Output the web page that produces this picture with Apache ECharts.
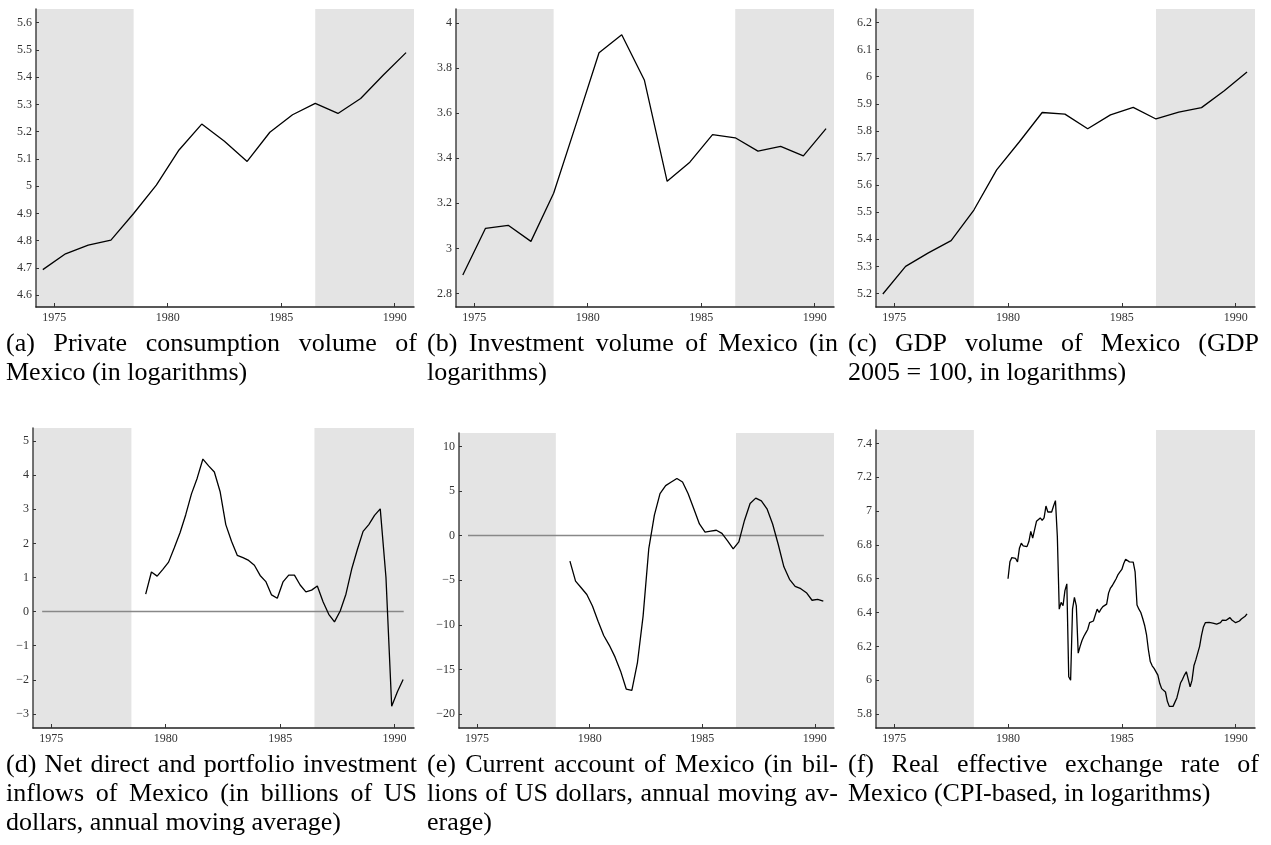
<!DOCTYPE html>
<html>
<head>
<meta charset="utf-8">
<script src="https://cdn.jsdelivr.net/npm/echarts@6/dist/echarts.min.js"></script>
<style>
html,body{margin:0;padding:0;background:#fff;}
#chart{width:1271px;height:845px;}
</style>
</head>
<body>
<div id="chart"></div>
<script>
// ---------- DATA ----------
const xTicks = [1975, 1980, 1985, 1990];
const shadedBands = [[1974.2, 1978.5], [1986.5, 1990.85]];
const zeroLineX = [1974.6, 1990.4];

const annualYears = [1974.5, 1975.5, 1976.5, 1977.5, 1978.5, 1979.5, 1980.5, 1981.5, 1982.5,
  1983.5, 1984.5, 1985.5, 1986.5, 1987.5, 1988.5, 1989.5, 1990.5];

const consumption = [4.694, 4.752, 4.784, 4.802, 4.900, 5.004, 5.133, 5.228, 5.165,
  5.091, 5.198, 5.262, 5.304, 5.267, 5.322, 5.408, 5.490];
const investment = [2.882, 3.089, 3.102, 3.031, 3.244, 3.554, 3.867, 3.947, 3.745,
  3.297, 3.382, 3.504, 3.490, 3.431, 3.452, 3.410, 3.531];
const gdp = [5.198, 5.300, 5.350, 5.395, 5.508, 5.656, 5.760, 5.868, 5.862,
  5.808, 5.859, 5.887, 5.844, 5.869, 5.886, 5.948, 6.017];

// quarterly, first quarter mid 1979.125
const quarterStart = 1979.125, quarterStep = 0.25;
const netInflows = [0.51, 1.16, 1.04, 1.24, 1.45, 1.87, 2.31, 2.84, 3.45, 3.91, 4.47, 4.27,
  4.09, 3.52, 2.55, 2.06, 1.65, 1.58, 1.50, 1.36, 1.06, 0.88, 0.49, 0.39,
  0.87, 1.07, 1.07, 0.78, 0.58, 0.63, 0.75, 0.29, -0.08, -0.30, 0.02, 0.51,
  1.24, 1.82, 2.35, 2.55, 2.82, 3.01, 1.00, -2.77, -2.35, -1.99];
const currentAccount = [-2.86, -5.1, -5.85, -6.6, -7.9, -9.6, -11.2, -12.3, -13.6, -15.2, -17.2, -17.35,
  -14.2, -9.0, -1.5, 2.3, 4.7, 5.6, 6.0, 6.4, 6.0, 4.7, 3.0, 1.3,
  0.4, 0.5, 0.6, 0.25, -0.6, -1.5, -0.7, 1.7, 3.6, 4.2, 3.9, 3.0,
  1.3, -1.0, -3.5, -4.9, -5.7, -5.95, -6.4, -7.25, -7.15, -7.35];

// monthly, from January 1980
const monthStart = 1980, monthStep = 1 / 12;
const reer = [6.60, 6.70, 6.725, 6.73, 6.72, 6.70, 6.78, 6.81, 6.795, 6.785, 6.79, 6.82,
  6.88, 6.84, 6.85, 6.94, 6.95, 6.96, 6.945, 6.96, 7.03, 6.995, 6.997, 6.995,
  7.03, 7.062, 6.85, 6.42, 6.46, 6.44, 6.53, 6.57, 6.02, 6.00, 6.42, 6.49,
  6.44, 6.16, 6.20, 6.235, 6.26, 6.28, 6.30, 6.34, 6.34, 6.35, 6.35, 6.42,
  6.40, 6.42, 6.435, 6.44, 6.45, 6.515, 6.545, 6.56, 6.58, 6.60, 6.625, 6.64,
  6.655, 6.69, 6.715, 6.72, 6.70, 6.695, 6.698, 6.64, 6.445, 6.42, 6.40, 6.365,
  6.325, 6.27, 6.18, 6.11, 6.085, 6.07, 6.08, 6.03, 5.98, 5.95, 5.95, 5.93,
  5.875, 5.845, 5.835, 5.845, 5.87, 5.895, 5.94, 5.985, 6.005, 6.03, 6.05, 6.06,
  5.96, 6.00, 6.085, 6.12, 6.16, 6.20, 6.265, 6.315, 6.34, 6.347, 6.342, 6.34,
  6.338, 6.335, 6.332, 6.33, 6.34, 6.355, 6.362, 6.354, 6.364, 6.37, 6.356, 6.345,
  6.34, 6.34, 6.35, 6.362, 6.368, 6.378, 6.392];

const yTicksA = [4.6, 4.7, 4.8, 4.9, 5, 5.1, 5.2, 5.3, 5.4, 5.5, 5.6];
const yTicksB = [2.8, 3, 3.2, 3.4, 3.6, 3.8, 4];
const yTicksC = [5.2, 5.3, 5.4, 5.5, 5.6, 5.7, 5.8, 5.9, 6, 6.1, 6.2];
const yTicksD = [-3, -2, -1, 0, 1, 2, 3, 4, 5];
const yTicksE = [-20, -15, -10, -5, 0, 5, 10];
const yTicksF = [5.8, 6, 6.2, 6.4, 6.6, 6.8, 7, 7.2, 7.4];

const captionsTop = [
  ["(a) Private consumption volume of", "Mexico (in logarithms)"],
  ["(b) Investment volume of Mexico (in", "logarithms)"],
  ["(c) GDP volume of Mexico (GDP", "2005 = 100, in logarithms)"]
];
const captionsBottom = [
  ["(d) Net direct and portfolio investment", "inflows of Mexico (in billions of US", "dollars, annual moving average)"],
  ["(e) Current account of Mexico (in bil-", "lions of US dollars, annual moving av-", "erage)"],
  ["(f) Real effective exchange rate of", "Mexico (CPI-based, in logarithms)"]
];

// ---------- BUILD ----------
const annualPairs = v => v.map((y, i) => [annualYears[i], y]);
const quarterPairs = v => v.map((y, i) => [quarterStart + quarterStep * i, y]);
const monthPairs = v => v.map((y, i) => [monthStart + monthStep * i, y]);

const panels = [
  {grid: {left: 36, top: 9, width: 378, height: 298}, y: [4.557, 5.65], ticks: yTicksA, data: annualPairs(consumption)},
  {grid: {left: 456, top: 9, width: 378, height: 298}, y: [2.74, 4.061], ticks: yTicksB, data: annualPairs(investment)},
  {grid: {left: 876, top: 9, width: 379, height: 298}, y: [5.15, 6.25], ticks: yTicksC, data: annualPairs(gdp)},
  {grid: {left: 33, top: 428, width: 381, height: 300}, y: [-3.41, 5.38], ticks: yTicksD, data: quarterPairs(netInflows), zero: true},
  {grid: {left: 459, top: 433, width: 375, height: 295}, y: [-21.57, 11.5], ticks: yTicksE, data: quarterPairs(currentAccount), zero: true},
  {grid: {left: 876, top: 430, width: 379, height: 298}, y: [5.717, 7.48], ticks: yTicksF, data: monthPairs(reer)}
];

const SERIF = '"Liberation Serif", "Times New Roman", serif';
const fmt = v => (Math.round(v * 100) / 100).toString().replace('-', '\u2212');

const grids = [], xAxes = [], yAxes = [], series = [];
panels.forEach((p, i) => {
  grids.push(Object.assign({containLabel: false}, p.grid));
  xAxes.push({
    type: 'value', gridIndex: i, min: shadedBands[0][0], max: shadedBands[1][1], z: 5,
    axisLine: {show: true, onZero: false, lineStyle: {color: '#222', width: 1.5}},
    axisTick: {show: true, inside: true, length: 4, customValues: xTicks, lineStyle: {color: '#333', width: 1}},
    axisLabel: {customValues: xTicks, fontFamily: SERIF, fontSize: 12, color: '#333', margin: 5, formatter: v => String(v)},
    splitLine: {show: false}
  });
  yAxes.push({
    type: 'value', gridIndex: i, min: p.y[0], max: p.y[1], z: 5,
    axisLine: {show: true, onZero: false, lineStyle: {color: '#444', width: 1.5}},
    axisTick: {show: true, inside: true, length: 3, customValues: p.ticks, lineStyle: {color: '#333', width: 1}},
    axisLabel: {customValues: p.ticks, fontFamily: SERIF, fontSize: 12, color: '#333', margin: 4, formatter: fmt},
    splitLine: {show: false}
  });
  series.push({
    type: 'line', xAxisIndex: i, yAxisIndex: i, data: p.data, showSymbol: false, symbol: 'none',
    lineStyle: {color: '#000', width: 1.3}, z: 3, silent: true,
    markArea: {silent: true, itemStyle: {color: '#e4e4e4'},
      data: shadedBands.map(b => [{xAxis: b[0]}, {xAxis: b[1]}])}
  });
  if (p.zero) {
    series.push({
      type: 'line', xAxisIndex: i, yAxisIndex: i, data: zeroLineX.map(x => [x, 0]), showSymbol: false, symbol: 'none',
      lineStyle: {color: '#888', width: 1.5}, z: 2, silent: true
    });
  }
});

// ---------- CAPTIONS (justified) ----------
const CAP_FONT = '26px "Liberation Serif"';
const mctx = document.createElement('canvas').getContext('2d');
mctx.font = CAP_FONT;
const colX = [6, 427, 848], colW = 411, lineH = 29;
const graphics = [];
function addCaption(lines, x0, yFirst) {
  lines.forEach((line, li) => {
    const y = yFirst + li * lineH;
    const last = li === lines.length - 1;
    if (last) {
      graphics.push({type: 'text', x: x0, y: y, style: {text: line, font: CAP_FONT, fill: '#000', textVerticalAlign: 'middle', verticalAlign: 'middle'}});
      return;
    }
    const words = line.split(' ');
    const widths = words.map(w => mctx.measureText(w).width);
    const total = widths.reduce((a, b) => a + b, 0);
    const gap = (colW - total) / (words.length - 1);
    let x = x0;
    words.forEach((w, wi) => {
      graphics.push({type: 'text', x: x, y: y, style: {text: w, font: CAP_FONT, fill: '#000', textVerticalAlign: 'middle', verticalAlign: 'middle'}});
      x += widths[wi] + gap;
    });
  });
}
captionsTop.forEach((c, i) => addCaption(c, colX[i], 344));
captionsBottom.forEach((c, i) => addCaption(c, colX[i], 765));

const chart = echarts.init(document.getElementById('chart'), null, {renderer: 'canvas'});
chart.setOption({
  animation: false,
  backgroundColor: '#fff',
  grid: grids, xAxis: xAxes, yAxis: yAxes, series: series,
  graphic: graphics
});
</script>
</body>
</html>
